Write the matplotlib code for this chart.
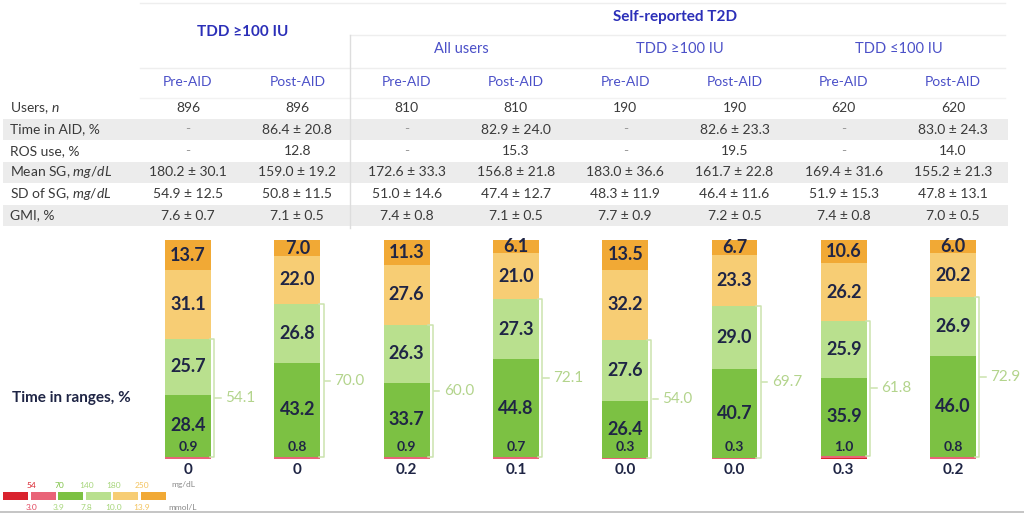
import numpy as np
import matplotlib
matplotlib.use("Agg")
import matplotlib.pyplot as plt

plt.rcParams['font.family'] = ['Lato', 'DejaVu Sans']
plt.rcParams['mathtext.fontset'] = 'custom'
plt.rcParams['mathtext.rm'] = 'Lato'
plt.rcParams['mathtext.it'] = 'Lato:italic'

# table data
groups = ['All users', 'TDD ≥100 IU', 'TDD ≤100 IU']
phases = ['Pre-AID', 'Post-AID'] * 4
row_labels = [r'Users, $\mathit{n}$', 'Time in AID, %', 'ROS use, %',
              r'Mean SG, $\mathit{mg/dL}$', r'SD of SG, $\mathit{mg/dL}$', 'GMI, %']
users = ['896', '896', '810', '810', '190', '190', '620', '620']
time_aid = ['-', '86.4 ± 20.8', '-', '82.9 ± 24.0', '-', '82.6 ± 23.3', '-', '83.0 ± 24.3']
ros_use = ['-', '12.8', '-', '15.3', '-', '19.5', '-', '14.0']
mean_sg = ['180.2 ± 30.1', '159.0 ± 19.2', '172.6 ± 33.3', '156.8 ± 21.8',
           '183.0 ± 36.6', '161.7 ± 22.8', '169.4 ± 31.6', '155.2 ± 21.3']
sd_sg = ['54.9 ± 12.5', '50.8 ± 11.5', '51.0 ± 14.6', '47.4 ± 12.7',
         '48.3 ± 11.9', '46.4 ± 11.6', '51.9 ± 15.3', '47.8 ± 13.1']
gmi = ['7.6 ± 0.7', '7.1 ± 0.5', '7.4 ± 0.8', '7.1 ± 0.5',
       '7.7 ± 0.9', '7.2 ± 0.5', '7.4 ± 0.8', '7.0 ± 0.5']
table_rows = [users, time_aid, ros_use, mean_sg, sd_sg, gmi]

# time in ranges, %
below_54 = [0, 0, 0.2, 0.1, 0.0, 0.0, 0.3, 0.2]
below_54_lbl = ['0', '0', '0.2', '0.1', '0.0', '0.0', '0.3', '0.2']
r54_70 = [0.9, 0.8, 0.9, 0.7, 0.3, 0.3, 1.0, 0.8]
r70_140 = [28.4, 43.2, 33.7, 44.8, 26.4, 40.7, 35.9, 46.0]
r140_180 = [25.7, 26.8, 26.3, 27.3, 27.6, 29.0, 25.9, 26.9]
r180_250 = [31.1, 22.0, 27.6, 21.0, 32.2, 23.3, 26.2, 20.2]
above_250 = [13.7, 7.0, 11.3, 6.1, 13.5, 6.7, 10.6, 6.0]
tir = [54.1, 70.0, 60.0, 72.1, 54.0, 69.7, 61.8, 72.9]

mg_ticks = ['54', '70', '140', '180', '250']
mmol_ticks = ['3.0', '3.9', '7.8', '10.0', '13.9']

c_red = '#d9232e'
c_pink = '#e96478'
c_green = '#7cc143'
c_lgreen = '#b9e08e'
c_lorange = '#f7cd74'
c_orange = '#f1a935'
navy = '#1f2545'
blue = '#2b2fb8'
blue2 = '#4b50c8'
txt = '#3a3a3a'

W, H = 1024, 514
fig = plt.figure(figsize=(W / 100, H / 100), dpi=100)
bg = fig.add_axes([0, 0, 1, 1])
bg.set_xlim(0, W)
bg.set_ylim(H, 0)
bg.axis('off')

col_x = [188 + 109.3 * i for i in range(8)]
row_y = [108 + 21.5 * i for i in range(6)]

# shaded rows
for i in (1, 3, 5):
    bg.axhspan(row_y[i] - 10.5, row_y[i] + 10.5, xmin=3 / W, xmax=1008 / W,
               color='#ececec', lw=0, zorder=0)

# faint rules
bg.plot([140, 1005], [3, 3], color='#eeeeee', lw=1)
bg.plot([350, 1005], [35, 35], color='#eeeeee', lw=1)
bg.plot([140, 1005], [68, 68], color='#eeeeee', lw=1)
bg.plot([140, 1005], [98, 98], color='#f2f2f2', lw=1)
bg.plot([350, 350], [35, 228], color='#dddddd', lw=1)
bg.plot([0, W], [512, 512], color='#bbbbbb', lw=1.2)

# headers
bg.text((col_x[0] + col_x[1]) / 2, 32, 'TDD ≥100 IU', ha='center', va='center',
        color=blue, fontsize=11, fontweight='bold')
bg.text(675, 17, 'Self-reported T2D', ha='center', va='center',
        color=blue, fontsize=11, fontweight='bold')
for g, name in enumerate(groups):
    xc = (col_x[2 + 2 * g] + col_x[3 + 2 * g]) / 2
    bg.text(xc, 49, name, ha='center', va='center', color=blue2, fontsize=10.5)
for j, p in enumerate(phases):
    bg.text(col_x[j], 82, p, ha='center', va='center', color=blue2, fontsize=10)

for i, (lab, vals) in enumerate(zip(row_labels, table_rows)):
    bg.text(10, row_y[i], lab, ha='left', va='center', color=txt, fontsize=10)
    for j, v in enumerate(vals):
        bg.text(col_x[j], row_y[i], v, ha='center', va='center',
                color='#999999' if v == '-' else txt, fontsize=10)

bg.text(12, 398, 'Time in ranges, %', ha='left', va='center', color=navy,
        fontsize=11, fontweight='bold')

# glucose range legend
sw_x = [3, 31, 58, 86, 113, 141]
sw_c = [c_red, c_pink, c_green, c_lgreen, c_lorange, c_orange]
for x0, c in zip(sw_x, sw_c):
    bg.add_patch(plt.Rectangle((x0, 492), 25, 8, color=c, lw=0))
mg_col = ['#d9232e', c_green, '#a6d57a', '#a6d57a', '#f3c35e']
mmol_col = ['#e0455c', '#a6d57a', '#a6d57a', '#a6d57a', '#f3c35e']
for k in range(5):
    xk = (sw_x[k] + 25 + sw_x[k + 1]) / 2 + 2
    bg.text(xk, 485, mg_ticks[k], ha='center', va='center', color=mg_col[k], fontsize=6)
    bg.text(xk, 508, mmol_ticks[k], ha='center', va='center', color=mmol_col[k], fontsize=6)
bg.text(183, 485, 'mg/dL', ha='center', va='center', color='#888888', fontsize=6)
bg.text(183, 508, 'mmol/L', ha='center', va='center', color='#888888', fontsize=6)

# stacked bars
step = 109.3
left = col_x[0] - step / 2
right = col_x[7] + step / 2
y_bot, y_top = 459, 240
ax = fig.add_axes([left / W, 1 - y_bot / H, (right - left) / W, (y_bot - y_top) / H])
ax.set_xlim(-0.5, 7.5)
ax.set_ylim(0, 100)
ax.axis('off')
ax.patch.set_alpha(0)

x = np.arange(8)
bw = 0.42
segs = [below_54, r54_70, r70_140, r140_180, r180_250, above_250]
bottom = np.zeros(8)
tops = []
for vals, c in zip(segs, sw_c):
    vals = np.array(vals, dtype=float)
    ax.bar(x, vals, bw, bottom=bottom, color=c, lw=0)
    tops.append(bottom + vals)
    bottom = bottom + vals

for i in range(8):
    for k in (2, 3, 4, 5):
        lo = tops[k - 1][i]
        hi = tops[k][i]
        ax.text(x[i], (lo + hi) / 2, f'{segs[k][i]:.1f}', ha='center', va='center',
                color=navy, fontsize=13, fontweight='bold')
    ax.text(x[i], 5.3, f'{r54_70[i]:.1f}', ha='center', va='center',
            color=navy, fontsize=10, fontweight='bold')
    ax.text(x[i], -5.2, below_54_lbl[i], ha='center', va='center',
            color=navy, fontsize=11, fontweight='bold', clip_on=False)
    # TIR bracket
    bx = x[i] + bw / 2 + 0.03
    lo = tops[1][i]
    hi = tops[3][i]
    bc = '#cbe3ae'
    ax.plot([bx - 0.04, bx, bx, bx - 0.04], [hi, hi, lo, lo], color=bc, lw=1.1, clip_on=False)
    mid = (lo + hi) / 2
    ax.plot([bx + 0.01, bx + 0.06], [mid, mid], color=bc, lw=1.1, clip_on=False)
    ax.text(bx + 0.1, mid, f'{tir[i]:.1f}', ha='left', va='center',
            color='#b3d48c', fontsize=11, clip_on=False)

fig.savefig('out.png', dpi=100)
